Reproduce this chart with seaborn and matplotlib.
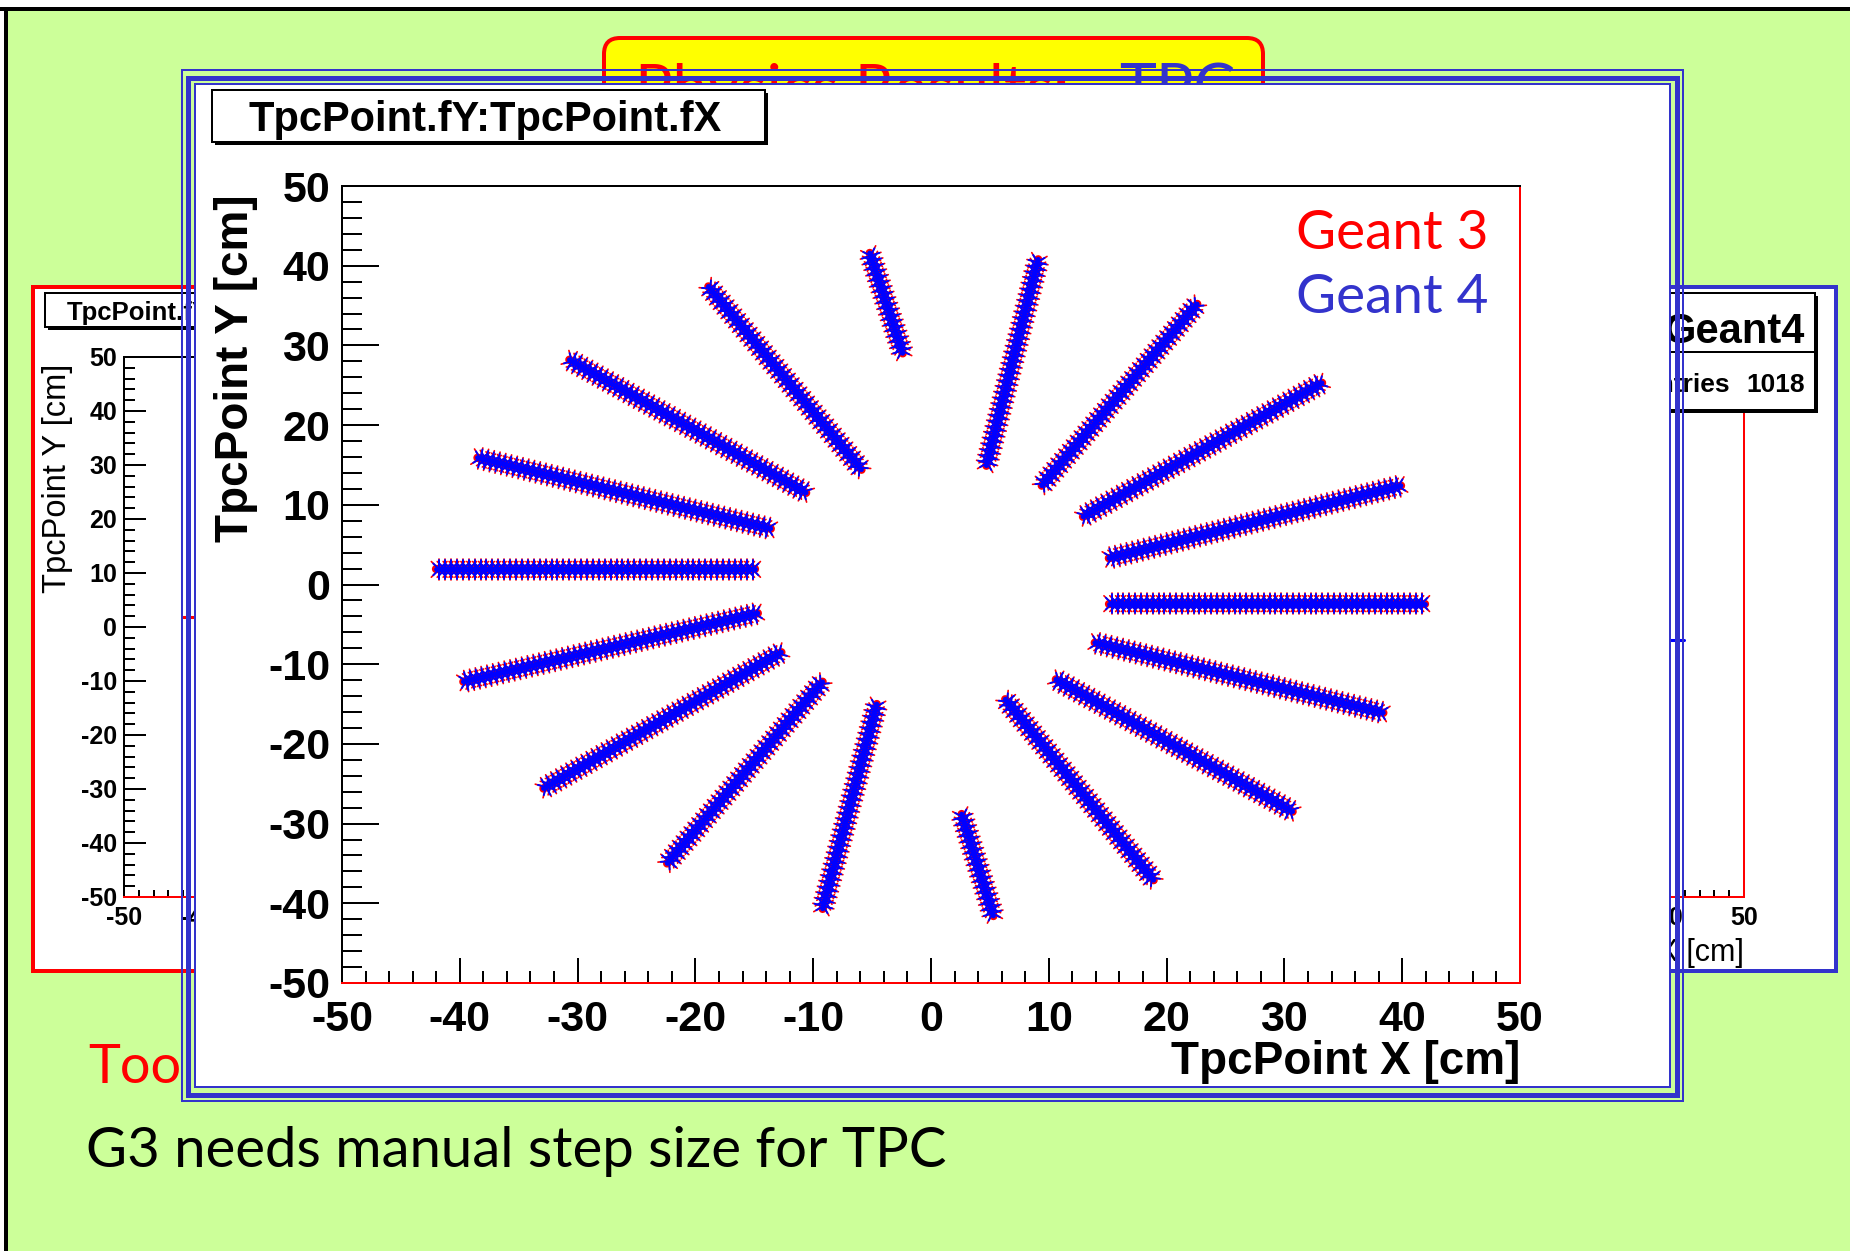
import matplotlib
matplotlib.use("Agg")
import numpy as np
import pandas as pd
import matplotlib.pyplot as plt
import seaborn as sns
from matplotlib import patheffects as pe
from matplotlib.patches import Rectangle, FancyBboxPatch
from matplotlib.ticker import MultipleLocator

# ---------------- data (cm) ----------------
track_id = list(range(1, 19))
track_x_start = [-2.4, 4.7, 9.4, 12.9, 15.1, 15.1, 13.9, 10.6, 6.3, 2.6,
                 -4.6, -9.2, -12.7, -14.7, -14.9, -13.6, -10.6, -5.9]
track_y_start = [29.0, 14.9, 12.4, 8.5, 3.3, -2.4, -7.3, -11.9, -14.4, -28.8,
                 -15.0, -12.2, -8.5, -3.6, 1.9, 7.0, 11.5, 14.4]
track_x_end = [-5.2, 9.1, 22.6, 33.2, 39.9, 41.9, 38.4, 30.7, 18.9, 5.3,
               -9.2, -22.4, -32.9, -39.7, -42.0, -38.5, -30.7, -18.9]
track_y_end = [41.6, 40.8, 35.2, 25.3, 12.4, -2.4, -16.1, -28.5, -37.1, -41.6,
               -40.7, -35.0, -25.6, -12.2, 1.9, 15.9, 28.2, 37.4]
simulations = ["Geant 3", "Geant 4"]
sim_colors = ["#ff0000", "#0000ff"]
axis_ticks = list(range(-50, 51, 10))
entries_g4 = 1018

rows = []
for sim in simulations:
    for t, xs, ys, xe, ye in zip(track_id, track_x_start, track_y_start,
                                 track_x_end, track_y_end):
        rows.append(dict(sim=sim, track=t, x=xs, y=ys))
        rows.append(dict(sim=sim, track=t, x=xe, y=ye))
df = pd.DataFrame(rows)

# ---------------- style ----------------
W, H, DPI = 1850, 1251, 100
PX = 72.0 / DPI  # points per pixel
sns.set_theme(style="ticks", rc={"text.color": "black", "axes.labelcolor": "black",
                                 "xtick.color": "black", "ytick.color": "black",
                                 "axes.edgecolor": "black"})
plt.rcParams["font.family"] = ["Liberation Sans", "DejaVu Sans"]
plt.rcParams["axes.unicode_minus"] = False
COMIC = ["Lato", "DejaVu Sans"]
GREEN = "#ccff99"
PBLUE = "#3333cc"
RED = "#ff0000"

fig = plt.figure(figsize=(W / DPI, H / DPI), dpi=DPI, facecolor="white")


def px_rect(x0, y0, x1, y1):
    return [x0 / W, 1 - y1 / H, (x1 - x0) / W, (y1 - y0) / H]


def overlay(z):
    a = fig.add_axes([0, 0, 1, 1], zorder=z)
    a.set_xlim(0, W)
    a.set_ylim(H, 0)
    a.axis("off")
    return a


# ---------------- slide background ----------------
bg = overlay(0)
bg.add_patch(Rectangle((6, 9), W, H, facecolor=GREEN, edgecolor="none"))
bg.plot([0, W], [9, 9], color="black", lw=4 * PX, solid_capstyle="butt")
bg.plot([6, 6], [9, H], color="black", lw=4 * PX, solid_capstyle="butt")

bg.add_patch(FancyBboxPatch((604, 38), 659, 160,
                            boxstyle="round,pad=0,rounding_size=16",
                            facecolor="#ffff00", edgecolor=RED, lw=4 * PX))
bg.text(635, 110, "Physics Results:", color=RED, fontsize=45, family=COMIC,
        va="baseline", ha="left")
bg.text(1235, 110, "TPC", color=PBLUE, fontsize=45, family=COMIC,
        va="baseline", ha="right")

# side panels (G3 left, G4 right)
bg.add_patch(Rectangle((33, 287), 900, 684, facecolor="white", edgecolor=RED, lw=4 * PX))
bg.add_patch(Rectangle((930, 287), 906, 684, facecolor="white", edgecolor=PBLUE, lw=4 * PX))

bg.text(88, 1083, "Too", color=RED, fontsize=39, family=COMIC, va="baseline")
bg.text(86, 1167, "G3 needs manual step size for TPC", color="black", fontsize=40.5,
        family=COMIC, va="baseline")


# ---------------- helper for ROOT-like axes ----------------
def root_axes(ax, tick_fs, ymaj, ymin, xmaj, xmin, ypad, xpad, lw_px=2, xshow=None):
    ax.set_xlim(-50, 50)
    ax.set_ylim(-50, 50)
    ax.patch.set_alpha(0)
    ax.set_xticks(axis_ticks)
    ax.set_yticks(axis_ticks)
    xl = [str(v) if (xshow is None or v in xshow) else "" for v in axis_ticks]
    ax.set_xticklabels(xl, fontsize=tick_fs, fontweight="bold")
    ax.set_yticklabels([str(v) for v in axis_ticks], fontsize=tick_fs, fontweight="bold")
    ax.xaxis.set_minor_locator(MultipleLocator(2))
    ax.yaxis.set_minor_locator(MultipleLocator(2))
    ax.tick_params(axis="y", which="major", direction="in", length=ymaj * PX,
                   width=lw_px * PX, left=True, right=False, pad=ypad * PX)
    ax.tick_params(axis="y", which="minor", direction="in", length=ymin * PX,
                   width=lw_px * PX, left=True, right=False)
    ax.tick_params(axis="x", which="major", direction="in", length=xmaj * PX,
                   width=lw_px * PX, bottom=True, top=False, pad=xpad * PX)
    ax.tick_params(axis="x", which="minor", direction="in", length=xmin * PX,
                   width=lw_px * PX, bottom=True, top=False)
    for side in ("left", "top"):
        ax.spines[side].set_color("black")
        ax.spines[side].set_linewidth(lw_px * PX)
    for side in ("right", "bottom"):
        ax.spines[side].set_color(RED)
        ax.spines[side].set_linewidth(lw_px * PX)
    ax.grid(False)


# ---------------- side mini plots (mostly hidden behind the main panel) ----------------
axL = fig.add_axes(px_rect(124, 357, 864, 897), zorder=1)
axR = fig.add_axes(px_rect(1004, 357, 1744, 897), zorder=1)
for a, sim, col, xshow in ((axL, simulations[0], sim_colors[0], (-50, -40)),
                           (axR, simulations[1], sim_colors[1], (40, 50))):
    sns.lineplot(data=df[df["sim"] == sim], x="x", y="y", units="track", estimator=None,
                 sort=False, color=col, lw=2.2, ax=a, legend=False)
    root_axes(a, 18, 22, 11, 14, 7, 7, 9, lw_px=2, xshow=xshow)
    a.set_xlabel("TpcPoint X [cm]", loc="right", fontsize=22)
    a.set_ylabel("TpcPoint Y [cm]", loc="top", fontsize=23.5)
    a.yaxis.set_label_coords(-0.069, 0.987)
    a.xaxis.set_label_coords(1.0, -0.075)

deco = overlay(1.5)
deco.add_patch(Rectangle((48, 296), 300, 34, facecolor="black", edgecolor="none"))
deco.add_patch(Rectangle((45, 293), 300, 34, facecolor="white", edgecolor="black", lw=2 * PX))
deco.text(67, 320, "TpcPoint.fY", fontsize=18.5, fontweight="bold", va="baseline")
deco.add_patch(Rectangle((1633, 296), 185, 117, facecolor="black", edgecolor="none"))
deco.add_patch(Rectangle((1630, 293), 185, 117, facecolor="white", edgecolor="black", lw=2 * PX))
deco.plot([1630, 1815], [352, 352], color="black", lw=2 * PX)
deco.text(1805, 343, "Geant4", fontsize=30, fontweight="bold", ha="right", va="baseline")
deco.text(1640, 392, "Entries", fontsize=19, fontweight="bold", ha="left", va="baseline")
deco.text(1805, 392, str(entries_g4), fontsize=19, fontweight="bold", ha="right", va="baseline")

# ---------------- main panel frame ----------------
pan = overlay(2)
pan.add_patch(Rectangle((196, 85), 1473, 1001, facecolor="white", edgecolor="none"))
pan.add_patch(Rectangle((181.5, 70), 1501.5, 1031, facecolor="none", edgecolor=PBLUE, lw=2 * PX))
pan.add_patch(Rectangle((188, 78), 1488.5, 1017, facecolor="none", edgecolor=PBLUE, lw=5 * PX))
pan.add_patch(Rectangle((194.5, 84), 1475.5, 1003, facecolor="none", edgecolor=PBLUE, lw=2 * PX))
pan.add_patch(Rectangle((215, 93), 553, 52, facecolor="black", edgecolor="none"))
pan.add_patch(Rectangle((212, 90), 553, 52, facecolor="white", edgecolor="black", lw=2 * PX))
pan.text(485, 131, "TpcPoint.fY:TpcPoint.fX", fontsize=30, fontweight="bold",
         ha="center", va="baseline")

# ---------------- main scatter of tracks ----------------
ax = fig.add_axes(px_rect(342, 186, 1520, 983), zorder=3)
sns.lineplot(data=df, x="x", y="y", hue="sim", hue_order=simulations, units="track",
             estimator=None, sort=False, palette=dict(zip(simulations, sim_colors)),
             legend=False, ax=ax)


def asterisk_effects(color, core_lw, bar_len, diag_len, tick_lw, spacing):
    eff = []
    for ang in (90, -90):
        eff.append(pe.TickedStroke(spacing=spacing, angle=ang, length=bar_len / spacing,
                                   linewidth=tick_lw, foreground=color))
    for ang in (45, -45, 135, -135):
        eff.append(pe.TickedStroke(spacing=spacing, angle=ang, length=diag_len / spacing,
                                   linewidth=tick_lw, foreground=color))
    eff.append(pe.Stroke(linewidth=core_lw, foreground=color))
    return eff


red_eff = asterisk_effects(sim_colors[0], 6.0, 7.8, 8.0, 1.2, 4.2)
blue_eff = asterisk_effects(sim_colors[1], 3.5, 6.6, 6.0, 1.4, 4.2)
for ln in ax.lines:
    c = matplotlib.colors.to_hex(ln.get_color())
    ln.set_path_effects(red_eff if c == sim_colors[0] else blue_eff)
    ln.set_linewidth(2)

root_axes(ax, 31, 37, 20, 25, 12, 12, 17, lw_px=2)
ax.set_xlabel("TpcPoint X [cm]", loc="right", fontsize=33, fontweight="bold")
ax.set_ylabel("TpcPoint Y [cm]", loc="top", fontsize=33, fontweight="bold")
ax.yaxis.set_label_coords(-0.071, 0.989)
ax.xaxis.set_label_coords(1.0, -0.0715)

top = overlay(4)
top.text(1489, 249, simulations[0], color=RED, fontsize=39.5, family=COMIC,
         ha="right", va="baseline")
top.text(1489, 313, simulations[1], color=PBLUE, fontsize=39.5, family=COMIC,
         ha="right", va="baseline")

fig.savefig("out.png", dpi=DPI, facecolor=fig.get_facecolor())
